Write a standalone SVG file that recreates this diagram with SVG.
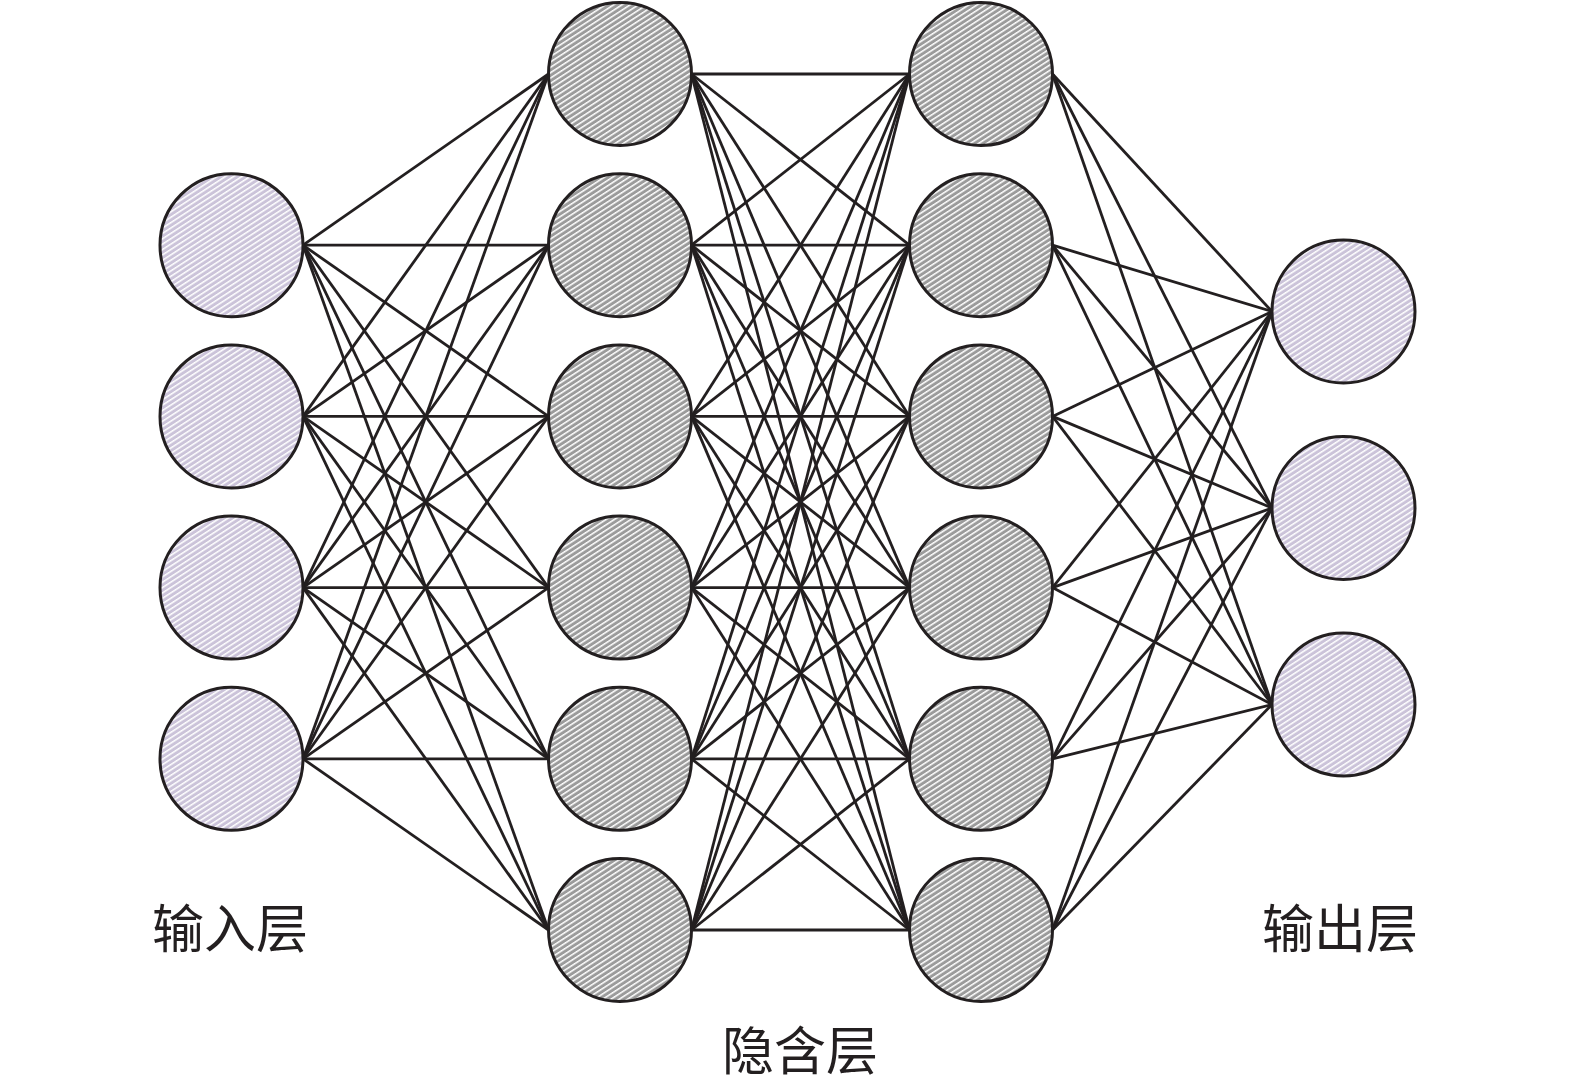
<svg xmlns="http://www.w3.org/2000/svg" width="1575" height="1085" viewBox="0 0 1575 1085">
<defs>
<pattern id="pIn" patternUnits="userSpaceOnUse" width="4.5" height="4.5" patternTransform="rotate(-33)">
<rect width="4.5" height="4.5" fill="#cbc3d9"/>
<rect width="4.5" height="1.5" fill="#ffffff"/>
</pattern>
<pattern id="pHid" patternUnits="userSpaceOnUse" width="4.5" height="4.5" patternTransform="rotate(-33)">
<rect width="4.5" height="4.5" fill="#9b9b9b"/>
<rect width="4.5" height="1.5" fill="#ffffff"/>
</pattern>
</defs>
<style>
.c{stroke:#231f20;stroke-width:3}
.in{fill:url(#pIn)}
.hid{fill:url(#pHid)}
#edges line{stroke:#231f20;stroke-width:2.8}
.t{font-family:"Noto Sans CJK SC","Noto Sans CJK JP",sans-serif;font-size:52px;fill:#231f20;text-anchor:middle}
</style>
<rect width="1575" height="1085" fill="#ffffff"/>
<g id="edges">
<line x1="303" y1="245.2" x2="548.5" y2="74"/><line x1="303" y1="245.2" x2="548.5" y2="245.2"/><line x1="303" y1="245.2" x2="548.5" y2="416.4"/><line x1="303" y1="245.2" x2="548.5" y2="587.6"/><line x1="303" y1="245.2" x2="548.5" y2="758.8"/><line x1="303" y1="245.2" x2="548.5" y2="930"/>
<line x1="303" y1="416.4" x2="548.5" y2="74"/><line x1="303" y1="416.4" x2="548.5" y2="245.2"/><line x1="303" y1="416.4" x2="548.5" y2="416.4"/><line x1="303" y1="416.4" x2="548.5" y2="587.6"/><line x1="303" y1="416.4" x2="548.5" y2="758.8"/><line x1="303" y1="416.4" x2="548.5" y2="930"/>
<line x1="303" y1="587.6" x2="548.5" y2="74"/><line x1="303" y1="587.6" x2="548.5" y2="245.2"/><line x1="303" y1="587.6" x2="548.5" y2="416.4"/><line x1="303" y1="587.6" x2="548.5" y2="587.6"/><line x1="303" y1="587.6" x2="548.5" y2="758.8"/><line x1="303" y1="587.6" x2="548.5" y2="930"/>
<line x1="303" y1="758.8" x2="548.5" y2="74"/><line x1="303" y1="758.8" x2="548.5" y2="245.2"/><line x1="303" y1="758.8" x2="548.5" y2="416.4"/><line x1="303" y1="758.8" x2="548.5" y2="587.6"/><line x1="303" y1="758.8" x2="548.5" y2="758.8"/><line x1="303" y1="758.8" x2="548.5" y2="930"/>
<line x1="691.5" y1="74" x2="909.5" y2="74"/><line x1="691.5" y1="74" x2="909.5" y2="245.2"/><line x1="691.5" y1="74" x2="909.5" y2="416.4"/><line x1="691.5" y1="74" x2="909.5" y2="587.6"/><line x1="691.5" y1="74" x2="909.5" y2="758.8"/><line x1="691.5" y1="74" x2="909.5" y2="930"/>
<line x1="691.5" y1="245.2" x2="909.5" y2="74"/><line x1="691.5" y1="245.2" x2="909.5" y2="245.2"/><line x1="691.5" y1="245.2" x2="909.5" y2="416.4"/><line x1="691.5" y1="245.2" x2="909.5" y2="587.6"/><line x1="691.5" y1="245.2" x2="909.5" y2="758.8"/><line x1="691.5" y1="245.2" x2="909.5" y2="930"/>
<line x1="691.5" y1="416.4" x2="909.5" y2="74"/><line x1="691.5" y1="416.4" x2="909.5" y2="245.2"/><line x1="691.5" y1="416.4" x2="909.5" y2="416.4"/><line x1="691.5" y1="416.4" x2="909.5" y2="587.6"/><line x1="691.5" y1="416.4" x2="909.5" y2="758.8"/><line x1="691.5" y1="416.4" x2="909.5" y2="930"/>
<line x1="691.5" y1="587.6" x2="909.5" y2="74"/><line x1="691.5" y1="587.6" x2="909.5" y2="245.2"/><line x1="691.5" y1="587.6" x2="909.5" y2="416.4"/><line x1="691.5" y1="587.6" x2="909.5" y2="587.6"/><line x1="691.5" y1="587.6" x2="909.5" y2="758.8"/><line x1="691.5" y1="587.6" x2="909.5" y2="930"/>
<line x1="691.5" y1="758.8" x2="909.5" y2="74"/><line x1="691.5" y1="758.8" x2="909.5" y2="245.2"/><line x1="691.5" y1="758.8" x2="909.5" y2="416.4"/><line x1="691.5" y1="758.8" x2="909.5" y2="587.6"/><line x1="691.5" y1="758.8" x2="909.5" y2="758.8"/><line x1="691.5" y1="758.8" x2="909.5" y2="930"/>
<line x1="691.5" y1="930" x2="909.5" y2="74"/><line x1="691.5" y1="930" x2="909.5" y2="245.2"/><line x1="691.5" y1="930" x2="909.5" y2="416.4"/><line x1="691.5" y1="930" x2="909.5" y2="587.6"/><line x1="691.5" y1="930" x2="909.5" y2="758.8"/><line x1="691.5" y1="930" x2="909.5" y2="930"/>
<line x1="1052.5" y1="74" x2="1272" y2="311.5"/><line x1="1052.5" y1="74" x2="1272" y2="508"/><line x1="1052.5" y1="74" x2="1272" y2="704.5"/>
<line x1="1052.5" y1="245.2" x2="1272" y2="311.5"/><line x1="1052.5" y1="245.2" x2="1272" y2="508"/><line x1="1052.5" y1="245.2" x2="1272" y2="704.5"/>
<line x1="1052.5" y1="416.4" x2="1272" y2="311.5"/><line x1="1052.5" y1="416.4" x2="1272" y2="508"/><line x1="1052.5" y1="416.4" x2="1272" y2="704.5"/>
<line x1="1052.5" y1="587.6" x2="1272" y2="311.5"/><line x1="1052.5" y1="587.6" x2="1272" y2="508"/><line x1="1052.5" y1="587.6" x2="1272" y2="704.5"/>
<line x1="1052.5" y1="758.8" x2="1272" y2="311.5"/><line x1="1052.5" y1="758.8" x2="1272" y2="508"/><line x1="1052.5" y1="758.8" x2="1272" y2="704.5"/>
<line x1="1052.5" y1="930" x2="1272" y2="311.5"/><line x1="1052.5" y1="930" x2="1272" y2="508"/><line x1="1052.5" y1="930" x2="1272" y2="704.5"/>
</g>
<g id="input-layer">
<g id="in1"><circle class="c in" cx="231.5" cy="245.2" r="71.5"/></g>
<g id="in2"><circle class="c in" cx="231.5" cy="416.4" r="71.5"/></g>
<g id="in3"><circle class="c in" cx="231.5" cy="587.6" r="71.5"/></g>
<g id="in4"><circle class="c in" cx="231.5" cy="758.8" r="71.5"/></g>
</g>
<g id="hidden-layer-1">
<g id="h1a"><circle class="c hid" cx="620" cy="74" r="71.5"/></g>
<g id="h1b"><circle class="c hid" cx="620" cy="245.2" r="71.5"/></g>
<g id="h1c"><circle class="c hid" cx="620" cy="416.4" r="71.5"/></g>
<g id="h1d"><circle class="c hid" cx="620" cy="587.6" r="71.5"/></g>
<g id="h1e"><circle class="c hid" cx="620" cy="758.8" r="71.5"/></g>
<g id="h1f"><circle class="c hid" cx="620" cy="930" r="71.5"/></g>
</g>
<g id="hidden-layer-2">
<g id="h2a"><circle class="c hid" cx="981" cy="74" r="71.5"/></g>
<g id="h2b"><circle class="c hid" cx="981" cy="245.2" r="71.5"/></g>
<g id="h2c"><circle class="c hid" cx="981" cy="416.4" r="71.5"/></g>
<g id="h2d"><circle class="c hid" cx="981" cy="587.6" r="71.5"/></g>
<g id="h2e"><circle class="c hid" cx="981" cy="758.8" r="71.5"/></g>
<g id="h2f"><circle class="c hid" cx="981" cy="930" r="71.5"/></g>
</g>
<g id="output-layer">
<g id="out1"><circle class="c in" cx="1343.5" cy="311.5" r="71.5"/></g>
<g id="out2"><circle class="c in" cx="1343.5" cy="508" r="71.5"/></g>
<g id="out3"><circle class="c in" cx="1343.5" cy="704.5" r="71.5"/></g>
</g>
<g id="labels">
<text class="t" x="230" y="948">输入层</text>
<text class="t" x="800" y="1070">隐含层</text>
<text class="t" x="1340" y="948">输出层</text>
</g>
</svg>
